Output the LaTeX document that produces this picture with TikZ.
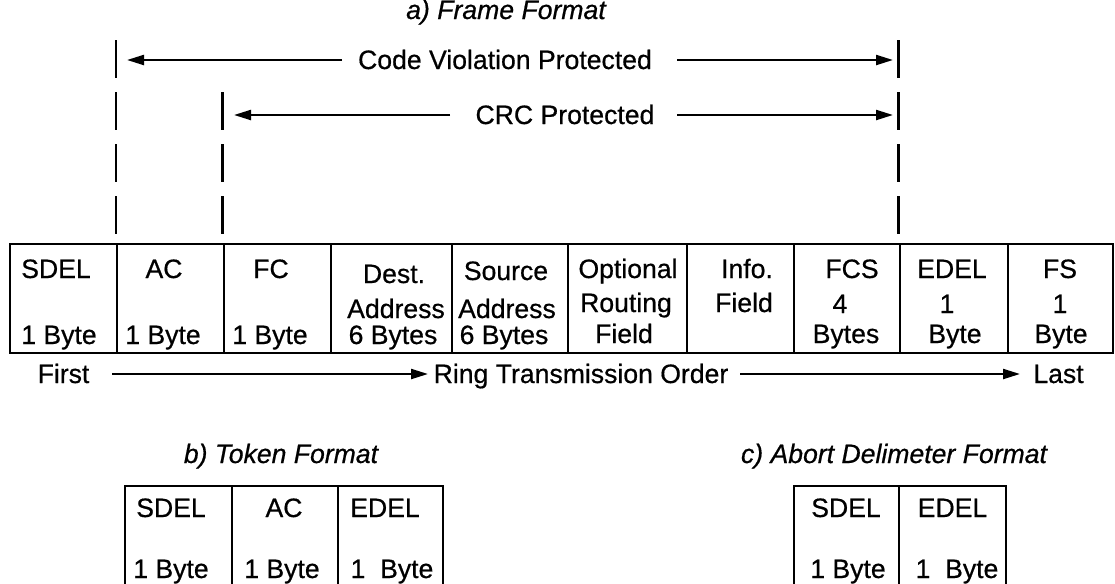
\documentclass[tikz,border=0pt]{standalone}
\usepackage{fontspec}
\setmainfont{Liberation Sans}[FakeBold=0.6]
\usetikzlibrary{arrows.meta}
\tikzset{
  cellbox/.style={draw, line width=1.15pt, minimum width=#1, minimum height=54.5pt, inner sep=0pt, anchor=north west},
  smallbox/.style={draw, line width=1.15pt, minimum width=#1, minimum height=60pt, inner sep=0pt, anchor=north west},
  dline/.style={line width=1.1pt, dash pattern=on 19pt off 7pt},
  arr/.style={line width=1.1pt, -{Triangle[length=8.5pt,width=5pt]}},
  lbl/.style={anchor=base, inner sep=0pt, font=\fontsize{13.3}{16}\selectfont},
  ttl/.style={anchor=base, inner sep=0pt, font=\fontsize{13.3}{16}\selectfont\itshape}
}
\begin{document}
\begin{tikzpicture}[x=0.5pt,y=-0.5pt]
\useasboundingbox (0,0) rectangle (1115,584);
\clip (0,0) rectangle (1115,584);
% title
\node[ttl] (tA) at (506,19) {a) Frame Format};
% protection labels
\node[lbl] (cv) at (505,69) {Code Violation Protected};
\node[lbl] (crc) at (565,124) {CRC Protected};
\coordinate (cvLa) at (342,60); \coordinate (cvLb) at (127,60);
\coordinate (cvRa) at (677,60); \coordinate (cvRb) at (893,60);
\coordinate (crLa) at (450,115); \coordinate (crLb) at (234,115);
\coordinate (crRa) at (677,115); \coordinate (crRb) at (893,115);
\draw[arr] (cvLa) -- (cvLb);
\draw[arr] (cvRa) -- (cvRb);
\draw[arr] (crLa) -- (crLb);
\draw[arr] (crRa) -- (crRb);
% dashed bars
\coordinate (dL1) at (116,40);  \coordinate (dL2) at (116,237);
\coordinate (dC1) at (222.5,92); \coordinate (dC2) at (222.5,237);
\coordinate (dR1) at (898.5,40); \coordinate (dR2) at (898.5,237);
\draw[dline] (dL1) -- (dL2);
\draw[dline] (dC1) -- (dC2);
\draw[dline] (dR1) -- (dR2);
% frame cells
\node[cellbox=53.5pt] (c1) at (9,243) {};
\node[cellbox=53.25pt] (c2) at (116,243) {};
\node[cellbox=53.75pt] (c3) at (222.5,243) {};
\node[cellbox=60.5pt] (c4) at (330,243) {};
\node[cellbox=58pt] (c5) at (451,243) {};
\node[cellbox=59.5pt] (c6) at (567,243) {};
\node[cellbox=53.25pt] (c7) at (686,243) {};
\node[cellbox=53pt] (c8) at (792.5,243) {};
\node[cellbox=54.25pt] (c9) at (898.5,243) {};
\node[cellbox=52.5pt] (c10) at (1007,243) {};
% cell texts
\node[lbl] (t1a) at (56,278) {SDEL};
\node[lbl] (t1c) at (59,344) {1 Byte};
\node[lbl] (t2a) at (164,278) {AC};
\node[lbl] (t2c) at (163,344) {1 Byte};
\node[lbl] (t3a) at (271,278) {FC};
\node[lbl] (t3c) at (270,344) {1 Byte};
\node[lbl] (t4a) at (394,283) {Dest.};
\node[lbl] (t4b) at (396,318) {Address};
\node[lbl] (t4c) at (393,344) {6 Bytes};
\node[lbl] (t5a) at (506,280) {Source};
\node[lbl] (t5b) at (507,318) {Address};
\node[lbl] (t5c) at (504,344) {6 Bytes};
\node[lbl] (t6a) at (628,278) {Optional};
\node[lbl] (t6b) at (626,312) {Routing};
\node[lbl] (t6c) at (624,343) {Field};
\node[lbl] (t7a) at (747,278) {Info.};
\node[lbl] (t7b) at (744,312) {Field};
\node[lbl] (t8a) at (852,278) {FCS};
\node[lbl] (t8b) at (840,313) {4};
\node[lbl] (t8c) at (846,343) {Bytes};
\node[lbl] (t9a) at (952,278) {EDEL};
\node[lbl] (t9b) at (947,313) {1};
\node[lbl] (t9c) at (955,343) {Byte};
\node[lbl] (t10a) at (1060,278) {FS};
\node[lbl] (t10b) at (1060,313) {1};
\node[lbl] (t10c) at (1061,343) {Byte};
% transmission order
\node[lbl] (first) at (63.5,383) {First};
\node[lbl] (ring) at (581,383) {Ring Transmission Order};
\node[lbl] (last) at (1058.5,383) {Last};
\coordinate (o1a) at (112,374); \coordinate (o1b) at (428,374);
\coordinate (o2a) at (740,374); \coordinate (o2b) at (1020,374);
\draw[arr] (o1a) -- (o1b);
\draw[arr] (o2a) -- (o2b);
% token format
\node[ttl] (tB) at (281,463) {b) Token Format};
\node[smallbox=53.75pt] (k1) at (123.5,485) {};
\node[smallbox=53pt] (k2) at (231,485) {};
\node[smallbox=52.5pt] (k3) at (337,485) {};
\node[lbl] (k1a) at (171,517) {SDEL};
\node[lbl] (k1b) at (171,578) {1 Byte};
\node[lbl] (k2a) at (284,517) {AC};
\node[lbl] (k2b) at (282,578) {1 Byte};
\node[lbl] (k3a) at (385,517) {EDEL};
\node[lbl] (k3b) at (392,578) {1\ \ Byte};
% abort delimiter
\node[ttl] (tC) at (894,463) {c) Abort Delimeter Format};
\node[smallbox=52.5pt] (a1) at (793,485) {};
\node[smallbox=53.5pt] (a2) at (898,485) {};
\node[lbl] (a1a) at (846,517) {SDEL};
\node[lbl] (a1b) at (848,578) {1 Byte};
\node[lbl] (a2a) at (952.5,517) {EDEL};
\node[lbl] (a2b) at (957,578) {1\ \ Byte};
\end{tikzpicture}
\end{document}
